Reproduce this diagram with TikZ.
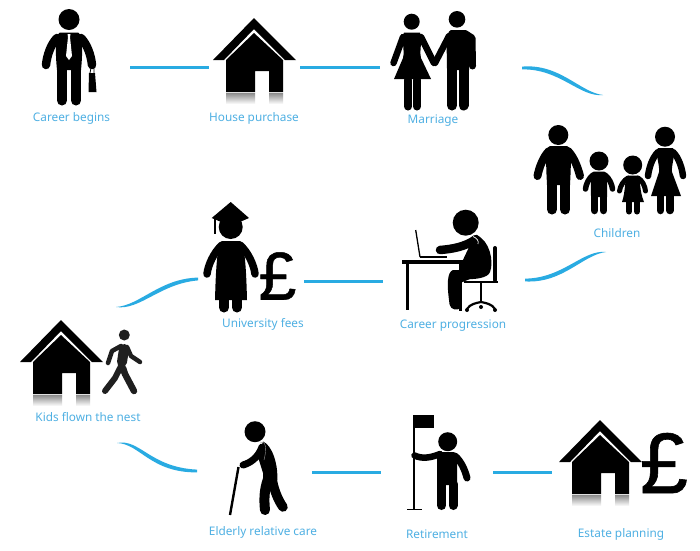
\documentclass[tikz,border=0pt]{standalone}
\usepackage{fontspec}
\setmainfont{Noto Sans}
\newfontfamily\poundfont[FakeBold=0.7]{Liberation Sans}
\definecolor{lineblue}{HTML}{29ABE2}
\definecolor{labelblue}{HTML}{4FB0E3}
\newcommand\taperline[4]{\fill[lineblue] ([yshift=1.4pt]#1) .. controls ([yshift=2.6pt]#2) and ([yshift=2.6pt]#3) .. (#4) .. controls ([yshift=-2.6pt]#3) and ([yshift=-2.6pt]#2) .. ([yshift=-1.4pt]#1) -- cycle;}
\tikzset{
  conn/.style={draw=lineblue,line width=3pt,line cap=butt},
  lab/.style={text=labelblue,font=\fontsize{11.8}{13}\selectfont,inner sep=0pt,anchor=center},
  limb/.style={draw=black,line width=#1,line cap=round,line join=round},
  limb/.default=7pt,
  pound/.style={font=\poundfont\fontsize{#1}{#1}\selectfont,inner sep=0pt,text=black},
  house/.pic={
    \fill (-41,42) -- (0,0) -- (42,42) -- (31,42) -- (0,11) -- (-30,42) -- cycle;
    \fill (0,15) -- (29,42) -- (29,74) -- (15,74) -- (15,53) -- (1,53) -- (1,74) -- (-28,74) -- (-28,42) -- cycle;
    \shade[top color=black!45,bottom color=white] (-28,75) rectangle (1,86);
    \shade[top color=black!45,bottom color=white] (15,75) rectangle (29,86);
  }
}
\begin{document}
\begin{tikzpicture}[x=1pt,y=-1pt]
\useasboundingbox[fill=white] (0,0) rectangle (700,550);
% labels
\node[lab] (l1) at (71.5,118.7) {Career begins};
\node[lab] (l2) at (254,118.7) {House purchase};
\node[lab] (l3) at (433,120.7) {Marriage};
\node[lab] (l4) at (617,232.7) {Children};
\node[lab] (l5) at (453,325.7) {Career progression};
\node[lab] (l6) at (263,324.7) {University fees};
\node[lab] (l7) at (88,416.7) {Kids flown the nest};
\node[lab] (l8) at (263,532.7) {Elderly relative care};
\node[lab] (l9) at (437,533.7) {Retirement};
\node[lab] (l10) at (621,534.7) {Estate planning};
% connector ends
\coordinate (a1) at (130,67); \coordinate (b1) at (209,67);
\coordinate (a2) at (300,67); \coordinate (b2) at (380,67);
\coordinate (a3) at (522,68); \coordinate (b3) at (603,95);
\coordinate (a4) at (525,280); \coordinate (b4) at (606,252);
\coordinate (a5) at (304,281); \coordinate (b5) at (383,281);
\coordinate (a6) at (198,279); \coordinate (b6) at (116,307);
\coordinate (a7) at (197,471); \coordinate (b7) at (117,443);
\coordinate (a8) at (312,472); \coordinate (b8) at (381,472);
\coordinate (a9) at (493,472); \coordinate (b9) at (552,472);
\draw[conn] (a1) -- (b1);
\draw[conn] (a2) -- (b2);
\taperline{a3}{560,66}{580,95}{b3}
\taperline{a4}{563,281}{583,252}{b4}
\draw[conn] (a5) -- (b5);
\taperline{a6}{160,281}{140,308}{b6}
\taperline{a7}{150,470}{140,441}{b7}
\draw[conn] (a8) -- (b8);
\draw[conn] (a9) -- (b9);
% houses
\pic at (254,18) {house};
\pic at (61,320) {house};
\pic at (600,420) {house};
% career man
\fill (69,19.5) circle (10.5);
\fill (60,32.5) -- (78,32.5) .. controls (84,34) and (82,60) .. (81,70) -- (57,70) .. controls (56,60) and (54,34) .. (60,32.5) -- cycle;
\draw[limb=10pt] (62,65) -- (62,100.5);
\draw[limb=10pt] (76,65) -- (76,100.5);
\draw[limb=8.5pt] (57,38) .. controls (51,44) and (47,55) .. (46,65);
\draw[limb=8.5pt] (81,38) .. controls (87,44) and (91,55) .. (92,65);
\fill[white] (67.5,34) -- (70.5,34) -- (70,37) -- (72,56) -- (69,60) -- (66,56) -- (68,37) -- cycle;
\fill (89,73) -- (95,73) -- (96.5,92) -- (88.5,92) -- cycle;
\draw[line width=0.8pt] (90,73) -- (91,68) -- (94,68) -- (94,73);
% marriage
\fill (411.7,21.7) circle (8);
\fill (404,32.5) -- (420,32.5) .. controls (423,40) and (419,50) .. (421,58) -- (431,79) -- (394,79) -- (403,58) .. controls (405,50) and (401,40) .. (404,32.5) -- cycle;
\draw[limb=8pt] (408,80) -- (408,106.5);
\draw[limb=8pt] (417,80) -- (417,106.5);
\draw[limb=6.5pt] (403,37) -- (393.5,63);
\draw[limb=6.5pt] (421,37) -- (434,63);
\fill (457,19.3) circle (8.3);
\fill (451,30) -- (466,30) -- (469,40) -- (469,70) -- (447,70) .. controls (447,50) and (445,32) .. (451,30) -- cycle;
\draw[limb=10pt] (452,66) -- (452,105.5);
\draw[limb=10pt] (463.5,66) -- (463.5,105.5);
\draw[limb=6.5pt] (449,36) -- (435,63);
\draw[limb=7pt] (465,33.5) -- (472,38) -- (472.5,66);
% children
\fill (558.3,135) circle (10);
\fill (550,146) -- (567,146) .. controls (572,147) and (571,165) .. (570,185) -- (547,185) .. controls (546,165) and (545,147) .. (550,146) -- cycle;
\draw[limb=10pt] (552,182) -- (552,209.5);
\draw[limb=10pt] (565,182) -- (565,209.5);
\draw[limb=8pt] (549,151) .. controls (543,157) and (539,168) .. (537.5,176);
\draw[limb=8pt] (568,151) .. controls (574,157) and (578,168) .. (580,176);
% child 1
\fill (599,161) circle (9.5);
\fill (594,171.5) -- (604,171.5) .. controls (608,172) and (607,185) .. (607,197) -- (591,197) .. controls (591,185) and (590,172) .. (594,171.5) -- cycle;
\draw[limb=7.5pt] (594.5,195) -- (594.5,210.5);
\draw[limb=7.5pt] (603.5,195) -- (603.5,210.5);
\draw[limb=5.5pt] (593,175) .. controls (589,178) and (586,184) .. (585.5,189);
\draw[limb=5.5pt] (605,175) .. controls (609,178) and (612,184) .. (612.5,189);
% child 2
\fill (632.7,165) circle (9.5);
\fill (628,175.5) -- (638,175.5) .. controls (641,180) and (639,190) .. (644,202) -- (622,202) .. controls (626,190) and (624,180) .. (628,175.5) -- cycle;
\draw[limb=6pt] (629,200) -- (629,211.5);
\draw[limb=6pt] (637,200) -- (637,211.5);
\draw[limb=5pt] (628,178) .. controls (624,180) and (620,186) .. (619.5,191);
\draw[limb=5pt] (638,178) .. controls (642,180) and (645,186) .. (645.5,191);
% woman right
\fill (665,136.7) circle (10);
\fill (658,148) -- (673,148) .. controls (676,155) and (671,165) .. (672,172) -- (681,196) -- (651,196) -- (659,172) .. controls (660,165) and (655,155) .. (658,148) -- cycle;
\draw[limb=7.5pt] (660.5,195) -- (660.5,210.5);
\draw[limb=7.5pt] (670,195) -- (670,210.5);
\draw[limb=6.5pt] (658,152) .. controls (652,158) and (649,168) .. (648,176);
\draw[limb=6.5pt] (673,152) .. controls (679,158) and (682,168) .. (683,176);
% desk person
\fill (465.7,222.7) circle (13);
\fill (476,235) .. controls (490,240) and (494,262) .. (490,272) .. controls (488,278) and (475,280) .. (460,279) -- (458,272) -- (462,262) -- (470,245) -- cycle;
\draw[limb=8.5pt] (440,250) .. controls (452,249) and (465,247) .. (476,239);
\draw[white,line width=0.7pt] (473,236.5) .. controls (477,238) and (479,241) .. (478,244);
\fill (453,270) .. controls (465,270) and (475,272) .. (480,275) -- (460,283) -- (459,309) .. controls (452,311) and (449,307) .. (449,300) .. controls (447,285) and (447,272) .. (453,270) -- cycle;
\fill (402,260) rectangle (465,263.5);
\draw[line width=3pt] (407.5,262) -- (407.5,310);
\draw[line width=3pt] (460.5,262) -- (460.5,311);
\draw[line width=1.3pt] (415.7,230) -- (420,257);
\draw[line width=2pt] (420,257) -- (447,257);
\draw[line width=4pt,line cap=round] (495,248) -- (495,280);
\draw[line width=2.6pt] (464,282) -- (498,282);
\draw[line width=2.6pt] (481,282) -- (481,302);
\draw[line width=2.2pt] (467,309) .. controls (470,304) and (476,303) .. (481,302) .. controls (486,303) and (492,304) .. (495,309);
\fill (467,310) circle (2); \fill (481,307) circle (2); \fill (495,310) circle (2);
% graduate
\fill (230.7,227) circle (12);
\fill (230.7,202) -- (249,218) -- (230.7,226) -- (211.7,218) -- cycle;
\draw[line width=2.2pt] (215,219) -- (215,234);
\fill (222,241) -- (240,241) .. controls (244,243) and (246,260) .. (247,300) -- (215,300) .. controls (216,260) and (218,243) .. (222,241) -- cycle;
\draw[limb=10pt] (224,300) -- (224,307.5);
\draw[limb=10pt] (237,300) -- (237,307.5);
\draw[limb=7.5pt] (222,245) .. controls (214,252) and (208,265) .. (207,274);
\draw[limb=7.5pt] (240,245) .. controls (248,252) and (254,265) .. (255,274);
\node[pound=68] (p1) at (277.5,276) {£};
% walker
\fill[black!88] (124.3,335) circle (5.5);
\draw[limb=10pt,black!88] (124,349) -- (122,362);
\draw[limb=7pt,black!88] (122,360) -- (121,370);
\draw[limb=4.5pt,black!88] (121,346) -- (112,351) -- (108,363);
\draw[limb=4.5pt,black!88] (127,347) -- (131,356) -- (140,362);
\draw[limb=6pt,black!88] (120,368) -- (115,378) -- (105,391);
\draw[limb=6.5pt,black!88] (123,368) -- (125,374) -- (134,391);
% elderly
\fill (255,431.7) circle (10.5);
\fill (263,441.5) .. controls (272,445) and (279,465) .. (277,483) -- (263,483) -- (263,473) -- (258,457) -- cycle;
\draw[limb=7pt] (262,447) .. controls (258,458) and (250,463) .. (243,465);
\draw[black!40,line width=0.4pt] (260,442) .. controls (266,441) and (267,448) .. (264,460);
\draw[line width=2.4pt] (238.5,467) -- (230,515);
\draw[limb=10pt] (268,479) .. controls (264,490) and (264,500) .. (265,510);
\draw[limb=9.5pt] (272,479) .. controls (274,490) and (278,500) .. (283,507);
% retirement
\fill (447.7,441.7) circle (9.5);
\draw[line width=1.3pt] (414,415) -- (414,510);
\draw[line width=1.5pt] (407,509.5) -- (422,509.5);
\fill (414,415) rectangle (433.5,428);
\draw[limb=6.5pt] (414.5,455.5) .. controls (422,459) and (430,458) .. (440,454);
\fill (441,452) -- (454,452) .. controls (458,454) and (457,470) .. (457,485) -- (437,485) -- (437,456) -- cycle;
\draw[limb=9pt] (441.5,484) -- (441.5,505.5);
\draw[limb=9pt] (453,484) -- (453,505.5);
\draw[limb=7pt] (455,456) .. controls (461,461) and (465,470) .. (467,478);
\node[pound=86] (p2) at (664,463) {£};
\end{tikzpicture}
\end{document}
